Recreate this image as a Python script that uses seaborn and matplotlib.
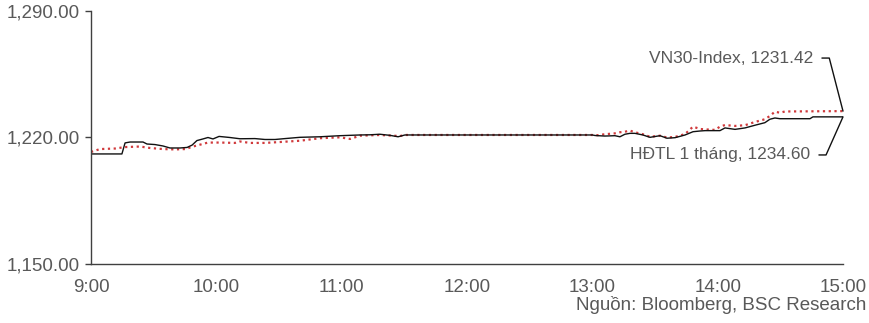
import matplotlib
matplotlib.use("Agg")
import matplotlib.pyplot as plt
import seaborn as sns
import pandas as pd

# ---- data (minutes after 9:00, index level) ----
vn30_minutes = [0, 14.8, 16.3, 18.7, 24.9, 26.8, 30.6, 34.5, 37.8, 42.6, 46, 48.4, 50.7,
                53.6, 56, 58.4, 61.3, 66.5, 71.3, 78.5, 83.3, 88.1, 92.9, 100, 109.6,
                119.2, 128.8, 133.6, 138.3, 143.1, 147, 150.3, 240, 241.3, 246, 250.8,
                253.2, 255.6, 258, 260.4, 264.2, 267.6, 272.4, 275.7, 279.6, 284.4,
                288.2, 291.6, 294, 298.7, 301.1, 303.5, 308.3, 313.1, 317.9, 322.6,
                325, 327.4, 329.8, 344.2, 345.6, 360]
vn30_values = [1210.9, 1210.9, 1217.0, 1217.5, 1217.5, 1216.4, 1216.1, 1215.3, 1214.2,
               1214.2, 1214.5, 1215.8, 1218.3, 1219.2, 1220.0, 1219.2, 1220.6, 1220.0,
               1219.3, 1219.4, 1218.9, 1218.9, 1219.4, 1220.1, 1220.4, 1221.0, 1221.4,
               1221.5, 1221.8, 1221.2, 1220.4, 1221.4, 1221.4, 1221.1, 1220.8, 1221.0,
               1220.4, 1221.8, 1222.3, 1222.3, 1221.4, 1220.1, 1221.0, 1219.6, 1219.9,
               1221.4, 1223.2, 1223.6, 1223.8, 1223.8, 1223.8, 1225.3, 1224.5, 1225.3,
               1226.8, 1228.2, 1230.1, 1230.8, 1230.4, 1230.4, 1231.42, 1231.42]

hdtl_minutes = [0, 4.3, 11.5, 16.3, 23.5, 28.2, 34.5, 40.2, 45, 49.8, 56, 61.8, 68.9,
                71.3, 76.1, 83.3, 90.5, 100, 109.6, 119.2, 124, 128.8, 138.3, 147.9,
                150.3, 240, 241.3, 246, 250.8, 253.2, 255.6, 258, 260.4, 264.2, 267.6,
                272.4, 275.7, 279.6, 284.4, 288.2, 291.6, 294, 298.7, 301.1, 303.5,
                308.3, 313.1, 317.9, 322.6, 325, 327.4, 329.8, 332.2, 360]
hdtl_values = [1212.0, 1213.6, 1213.9, 1214.7, 1215.0, 1214.2, 1213.6, 1213.4, 1213.6,
               1215.3, 1217.2, 1217.2, 1217.0, 1217.8, 1217.0, 1217.0, 1217.5, 1218.2,
               1219.6, 1220.1, 1219.2, 1221.0, 1221.4, 1220.8, 1221.4, 1221.4, 1221.1,
               1221.8, 1222.3, 1222.9, 1223.2, 1223.8, 1222.9, 1221.8, 1220.4, 1221.0,
               1220.0, 1220.3, 1221.9, 1226.0, 1224.7, 1224.5, 1224.2, 1226.0, 1226.9,
               1226.4, 1226.8, 1228.6, 1230.1, 1231.9, 1234.3, 1233.7, 1234.4, 1234.6]

x_tick_minutes = [0, 60, 120, 180, 240, 300, 360]
x_tick_labels = ["9:00", "10:00", "11:00", "12:00", "13:00", "14:00", "15:00"]
y_ticks = [1150, 1220, 1290]

vn30_label = "VN30-Index, 1231.42"
hdtl_label = "HĐTL 1 tháng, 1234.60"
source_text = "Nguồn: Bloomberg, BSC Research"

df_vn30 = pd.DataFrame({"minute": vn30_minutes, "value": vn30_values})
df_hdtl = pd.DataFrame({"minute": hdtl_minutes, "value": hdtl_values})

# ---- style ----
sns.set_theme(style="white")
plt.rcParams["font.family"] = ["Liberation Sans", "DejaVu Sans"]
grey = "#595959"

fig = plt.figure(figsize=(8.69, 3.23), dpi=100)
ax = fig.add_axes([91 / 869, 59 / 323, 752 / 869, 253 / 323])

sns.lineplot(data=df_hdtl, x="minute", y="value", ax=ax, color="#d0393b",
             linestyle=(0, (1, 1.6)), linewidth=1.6, estimator=None)
sns.lineplot(data=df_vn30, x="minute", y="value", ax=ax, color="#111111",
             linewidth=1.0, estimator=None)

ax.set_xlim(0, 360)
ax.set_ylim(1150, 1290)
ax.set_xticks(x_tick_minutes)
ax.set_xticklabels(x_tick_labels)
ax.set_yticks(y_ticks)
ax.set_yticklabels([f"{v:,.2f}" for v in y_ticks])
ax.set_xlabel("")
ax.set_ylabel("")

for side in ("top", "right"):
    ax.spines[side].set_visible(False)
for side in ("left", "bottom"):
    ax.spines[side].set_color("#404040")
    ax.spines[side].set_linewidth(1.0)

ax.tick_params(axis="y", which="major", direction="out", length=4, width=1,
               color="#404040", labelsize=13.5, labelcolor=grey, pad=4, left=True)
ax.tick_params(axis="x", which="major", length=0, labelsize=13.5,
               labelcolor=grey, pad=11)

# ---- annotations ----
ax.text(0.960, 0.814, vn30_label, transform=ax.transAxes, ha="right", va="center",
        fontsize=12.5, color=grey)
ax.text(0.956, 0.431, hdtl_label, transform=ax.transAxes, ha="right", va="center",
        fontsize=12.5, color=grey)

ax.annotate("", xy=(hdtl_minutes[-1], hdtl_values[-1]), xycoords="data",
            xytext=(0.972, 0.814), textcoords="axes fraction",
            arrowprops=dict(arrowstyle="-", color="#111111", lw=1.0,
                            shrinkA=0, shrinkB=0,
                            connectionstyle="angle,angleA=0,angleB=104.5,rad=0"),
            annotation_clip=False)
ax.annotate("", xy=(vn30_minutes[-1], vn30_values[-1]), xycoords="data",
            xytext=(0.968, 0.431), textcoords="axes fraction",
            arrowprops=dict(arrowstyle="-", color="#111111", lw=1.0,
                            shrinkA=0, shrinkB=0,
                            connectionstyle="angle,angleA=0,angleB=66,rad=0"),
            annotation_clip=False)

fig.text(866 / 869, 1 - 305 / 323, source_text, ha="right", va="center",
         fontsize=13.5, color=grey)

fig.savefig("out.png", dpi=100)
